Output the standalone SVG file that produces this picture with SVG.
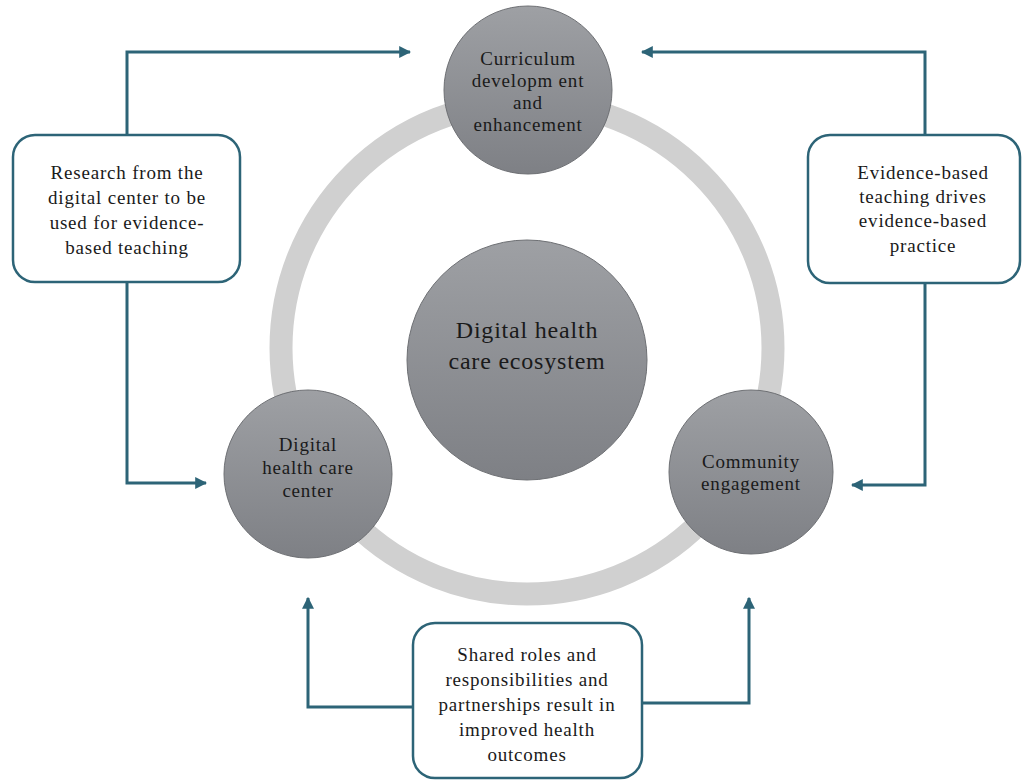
<svg xmlns="http://www.w3.org/2000/svg" width="1024" height="780" viewBox="0 0 1024 780">
<style>
.circ{fill:url(#g);stroke:#6e7074;stroke-width:1}
.t{font-family:"Liberation Serif","Times New Roman",serif;font-size:19px;letter-spacing:0.8px;fill:#1a1a1a;text-anchor:middle}
.big{font-size:24px;letter-spacing:0.8px}
.box{fill:#fff;stroke:#2d6477;stroke-width:2.5}
.ln{fill:none;stroke:#2d6477;stroke-width:3;marker-end:url(#ah)}
</style>
<defs>
<linearGradient id="g" x1="0" y1="0" x2="0" y2="1">
<stop offset="0" stop-color="#9ea0a4"/>
<stop offset="1" stop-color="#7e8085"/>
</linearGradient>
<marker id="ah" viewBox="0 0 10 10" refX="9" refY="5" markerWidth="4" markerHeight="4" orient="auto" markerUnits="strokeWidth">
<path d="M0,0 L10,5 L0,10 z" fill="#2d6477"/>
</marker>
</defs>
<rect width="1024" height="780" fill="#fff"/>
<circle id="ring" cx="527" cy="348" r="246" fill="none" stroke="#d0d0d0" stroke-width="23"/>
<g id="connectors">
<path class="ln" d="M127,135 V52 H410"/>
<path class="ln" d="M127,282 V483 H206"/>
<path class="ln" d="M925,135 V52 H642"/>
<path class="ln" d="M925,283 V485 H852"/>
<path class="ln" d="M413,707 H308 V598"/>
<path class="ln" d="M642,703 H749 V598"/>
</g>
<g id="center">
<circle class="circ" cx="527" cy="360" r="120"/>
<text class="t big" x="527" y="338">Digital health</text>
<text class="t big" x="527" y="369">care ecosystem</text>
</g>
<g id="top">
<circle class="circ" cx="528" cy="90" r="84"/>
<text class="t" x="528" y="65">Curriculum</text>
<text class="t" x="528" y="87">developm ent</text>
<text class="t" x="528" y="109">and</text>
<text class="t" x="528" y="131">enhancement</text>
</g>
<g id="left">
<circle class="circ" cx="308" cy="474" r="84"/>
<text class="t" x="308" y="451">Digital</text>
<text class="t" x="308" y="474">health care</text>
<text class="t" x="308" y="497">center</text>
</g>
<g id="right">
<circle class="circ" cx="751" cy="472" r="82"/>
<text class="t" x="751" y="468">Community</text>
<text class="t" x="751" y="490">engagement</text>
</g>
<g id="boxL">
<rect class="box" x="13" y="135" width="227" height="147" rx="22"/>
<text class="t" x="127" y="179">Research from the</text>
<text class="t" x="127" y="204">digital center to be</text>
<text class="t" x="127" y="229">used for evidence-</text>
<text class="t" x="127" y="254">based teaching</text>
</g>
<g id="boxR">
<rect class="box" x="808" y="135" width="212" height="148" rx="22"/>
<text class="t" x="923" y="179">Evidence-based</text>
<text class="t" x="923" y="203">teaching drives</text>
<text class="t" x="923" y="227">evidence-based</text>
<text class="t" x="923" y="252">practice</text>
</g>
<g id="boxB">
<rect class="box" x="413" y="623" width="229" height="155" rx="22"/>
<text class="t" x="527" y="661">Shared roles and</text>
<text class="t" x="527" y="686">responsibilities and</text>
<text class="t" x="527" y="711">partnerships result in</text>
<text class="t" x="527" y="736">improved health</text>
<text class="t" x="527" y="761">outcomes</text>
</g>
</svg>
